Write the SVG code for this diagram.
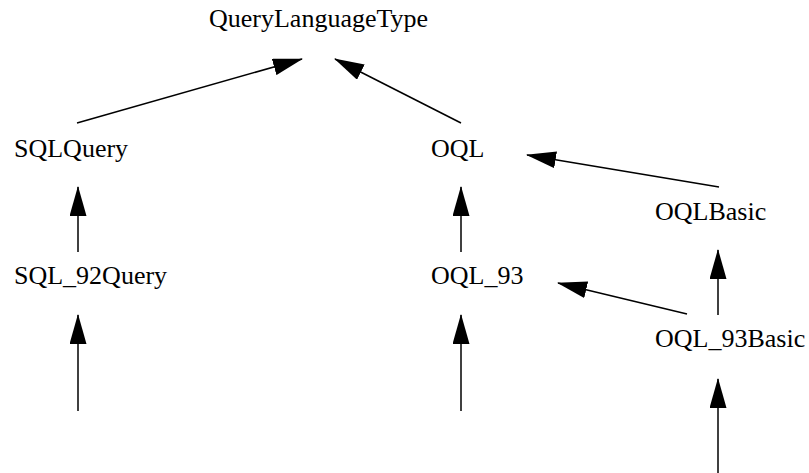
<svg xmlns="http://www.w3.org/2000/svg" width="809" height="473" viewBox="0 0 809 473">
  <style>
    .lbl { font-family: "Liberation Serif", "Times New Roman", serif; font-size: 26px; fill: #000; }
    .edge { stroke: #000; stroke-width: 1.5; fill: none; marker-end: url(#ah); }
  </style>
  <defs>
    <marker id="ah" viewBox="0 0 30 17" refX="29" refY="8.5" markerWidth="30" markerHeight="17" markerUnits="userSpaceOnUse" orient="auto">
      <path d="M0,0 L30,8.5 L0,17 z" fill="#000"/>
    </marker>
  </defs>
  <rect width="809" height="473" fill="#fff"/>
  <g id="connectors">
    <line class="edge" x1="77" y1="123" x2="302" y2="59"/>
    <line class="edge" x1="461" y1="123" x2="335" y2="59"/>
    <line class="edge" x1="719" y1="187" x2="527" y2="155"/>
    <line class="edge" x1="78" y1="252" x2="78" y2="187"/>
    <line class="edge" x1="461" y1="252" x2="461" y2="187"/>
    <line class="edge" x1="718" y1="315" x2="718" y2="250"/>
    <line class="edge" x1="687" y1="314" x2="558" y2="283"/>
    <line class="edge" x1="78" y1="411" x2="78" y2="315"/>
    <line class="edge" x1="461" y1="411" x2="461" y2="315"/>
    <line class="edge" x1="718" y1="473" x2="718" y2="379"/>
  </g>
  <g id="QueryLanguageType"><text class="lbl" x="209" y="27">QueryLanguageType</text></g>
  <g id="SQLQuery"><text class="lbl" x="14" y="157">SQLQuery</text></g>
  <g id="OQL"><text class="lbl" x="431" y="157">OQL</text></g>
  <g id="OQLBasic"><text class="lbl" x="655" y="220">OQLBasic</text></g>
  <g id="SQL_92Query"><text class="lbl" x="14" y="284">SQL_92Query</text></g>
  <g id="OQL_93"><text class="lbl" x="431" y="284">OQL_93</text></g>
  <g id="OQL_93Basic"><text class="lbl" x="655" y="347">OQL_93Basic</text></g>
</svg>
